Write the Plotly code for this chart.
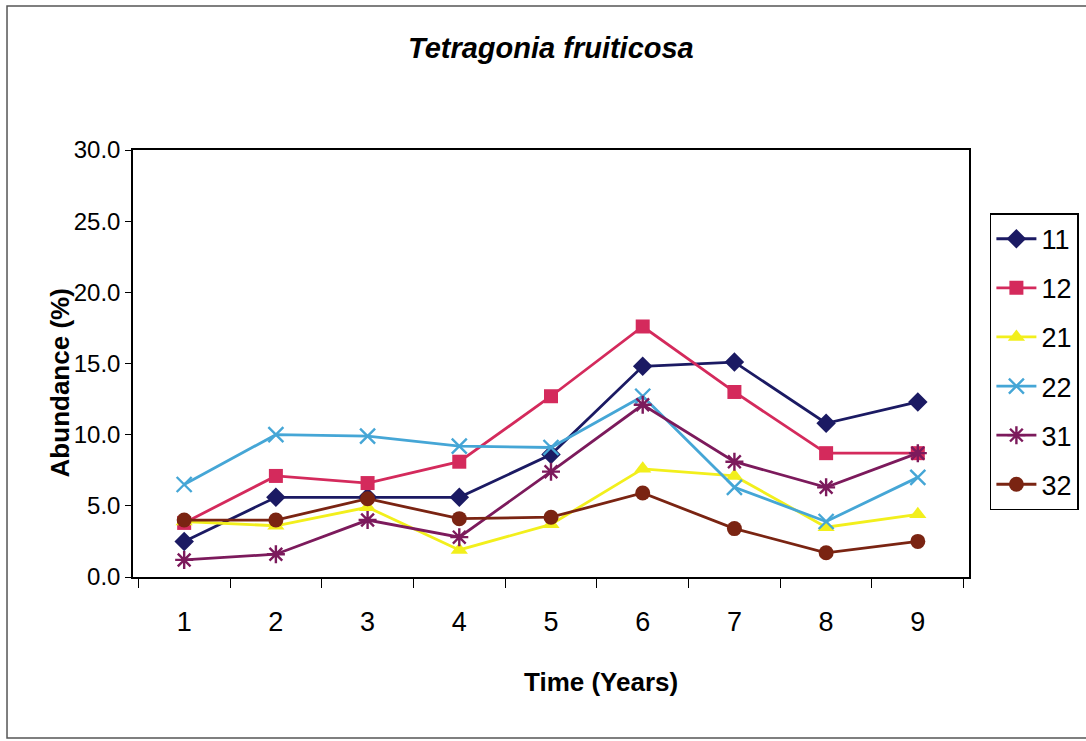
import plotly.graph_objects as go

# Years of observation
years = ["1", "2", "3", "4", "5", "6", "7", "8", "9"]

# Abundance (%) per plot
s11 = [2.5, 5.6, 5.6, 5.6, 8.6, 14.8, 15.1, 10.8, 12.3]
s12 = [3.8, 7.1, 6.6, 8.1, 12.7, 17.6, 13.0, 8.7, 8.7]
s21 = [3.9, 3.6, 4.9, 1.9, 3.7, 7.6, 7.1, 3.5, 4.4]
s22 = [6.5, 10.0, 9.9, 9.2, 9.1, 12.7, 6.3, 3.9, 7.0]
s31 = [1.2, 1.6, 4.0, 2.8, 7.4, 12.1, 8.1, 6.3, 8.7]
s32 = [4.0, 4.0, 5.5, 4.1, 4.2, 5.9, 3.4, 1.7, 2.5]

series = [
    ("11", s11, "#1b1a63", "diamond", 15, 0),
    ("12", s12, "#d42a5c", "square", 14, 0),
    ("21", s21, "#f2ef1c", "triangle-up", 15, 0),
    ("22", s22, "#45a6d6", "x-thin-open", 15, 2.4),
    ("31", s31, "#7c1a5c", "asterisk-open", 15, 2.4),
    ("32", s32, "#7a2412", "circle", 15, 0),
]

fig = go.Figure()
for i, (name, vals, color, sym, size, lw) in enumerate(series):
    fig.add_trace(go.Scatter(
        x=years, y=vals, name=name, mode="lines+markers",
        legendgroup=f"g{i}",
        line=dict(color=color, width=2.8),
        marker=dict(symbol=sym, size=size, color=color,
                    line=dict(color=color, width=lw)),
    ))

font_family = "Liberation Sans, Arial, sans-serif"

fig.update_layout(
    width=1086, height=741,
    margin=dict(l=133, r=117, t=150, b=164, autoexpand=False),
    paper_bgcolor="white", plot_bgcolor="white",
    font=dict(family=font_family, color="black", size=26),
    showlegend=True,
    legend=dict(
        x=1.025, y=0.852, xanchor="left", yanchor="top",
        bordercolor="black", borderwidth=1.5, bgcolor="white",
        font=dict(size=27, family=font_family),
        tracegroupgap=11, itemwidth=40,
    ),
    xaxis=dict(
        type="category", tickson="boundaries", ticks="outside",
        ticklen=9, tickcolor="black", linecolor="black", linewidth=1.5,
        mirror=True, showgrid=False, ticklabelstandoff=20,
        tickfont=dict(size=27, family=font_family),
    ),
    yaxis=dict(
        range=[0, 30], dtick=5, tickformat=".1f", ticks="outside",
        ticklen=6, tickcolor="black", linecolor="black", linewidth=1.5,
        mirror=True, showgrid=False, zeroline=False,
        tickfont=dict(size=24, family=font_family),
    ),
    annotations=[
        dict(text="<b><i>Tetragonia fruiticosa</i></b>", xref="paper", yref="paper",
             x=0.5, y=1.239, xanchor="center", yanchor="middle",
             showarrow=False, font=dict(size=29)),
        dict(text="<b>Time (Years)</b>", xref="paper", yref="paper",
             x=0.56, y=-0.246, xanchor="center", yanchor="middle",
             showarrow=False, font=dict(size=26)),
        dict(text="<b>Abundance (%)</b>", xref="paper", yref="paper",
             x=-0.087, y=0.454, xanchor="center", yanchor="middle",
             showarrow=False, textangle=-90, font=dict(size=26)),
    ],
    shapes=[
        dict(type="rect", xref="paper", yref="paper",
             x0=-0.1507, x1=1.16, y0=-0.377, y1=1.337,
             line=dict(color="#555555", width=1.5), layer="below"),
    ],
)

fig.write_html("out.html")
